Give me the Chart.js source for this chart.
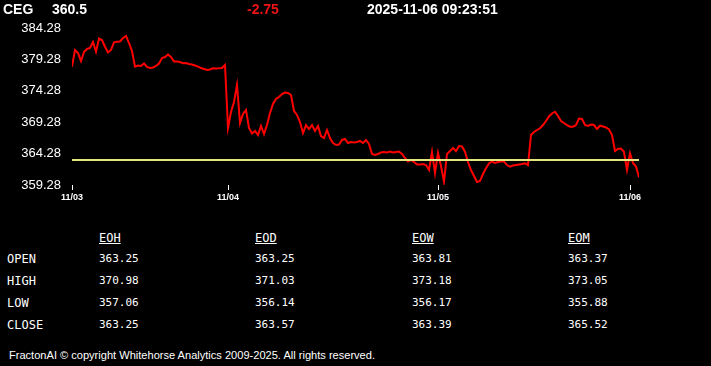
<!DOCTYPE html>
<html>
<head>
<meta charset="utf-8">
<script src="https://cdn.jsdelivr.net/npm/chart.js@4.4.1/dist/chart.umd.min.js"></script>
<style>
  html, body { margin:0; padding:0; background:#000; width:711px; height:366px; overflow:hidden; }
  #wrap { position:relative; width:711px; height:366px; }
  #c { position:absolute; left:0; top:0; }
  .hdr { position:absolute; top:2px; font:bold 14px "Liberation Sans", Arial, sans-serif; line-height:14px; color:#fff; white-space:nowrap; }
  .mono { position:absolute; font-family:"DejaVu Sans Mono", monospace; color:#fff; white-space:nowrap; }
  #foot { position:absolute; left:9px; top:349px; font:11.5px "Liberation Sans", Arial, sans-serif; line-height:12px; color:#fff; white-space:nowrap; transform-origin:0 0; }
</style>
</head>
<body>
<div id="wrap">
  <canvas id="c" width="711" height="210"></canvas>
</div>
<script>
// ---- header ----
const symbol = 'CEG';
const lastPrice = '360.5';
const change = '-2.75';
const timestamp = '2025-11-06 09:23:51';

// ---- price series (one point per interval) ----
const prices = [
 378.12,380.78,380.30,379.03,380.46,380.94,381.10,382.05,380.51,382.61,
 382.37,381.30,380.38,380.78,382.00,382.10,382.13,382.69,383.01,381.89,
 380.62,378.12,378.31,378.23,378.63,378.07,377.91,377.99,378.23,378.63,
 379.50,379.66,380.06,379.66,378.95,378.95,378.87,378.66,378.71,378.55,
 378.47,378.31,378.12,377.91,377.75,377.59,377.67,377.86,377.83,377.86,
 377.91,378.39,368.36,370.90,372.50,375.20,369.15,370.59,371.22,368.36,
 367.48,367.88,367.24,368.68,367.40,368.83,370.75,372.18,372.97,373.29,
 373.77,374.01,373.93,373.61,371.06,370.43,369.31,367.56,368.83,368.20,
 368.83,367.88,368.68,367.08,366.76,368.04,366.76,365.97,365.65,365.73,
 366.45,366.60,365.97,366.13,366.05,366.13,366.29,365.97,366.45,365.81,
 364.22,364.06,364.22,364.46,364.54,364.46,364.61,364.46,364.54,364.61,
 364.22,363.58,363.02,363.26,362.94,362.54,362.54,362.62,362.46,361.67,
 364.54,361.19,364.38,362.31,359.81,364.22,364.69,365.17,364.69,365.49,
 365.41,364.58,362.94,361.67,360.71,359.76,359.92,361.03,361.94,362.70,
 363.02,362.78,362.94,363.02,363.02,362.46,362.19,362.38,362.46,362.54,
 362.62,362.73,362.46,367.24,367.72,368.04,368.31,368.83,369.47,370.19,
 370.67,370.95,370.27,369.47,369.15,368.83,368.56,368.56,368.83,369.87,
 369.79,368.83,368.68,368.91,368.83,368.20,368.72,368.59,368.44,368.12,
 367.24,364.69,365.01,365.09,364.54,361.67,364.33,362.78,362.23,360.50
];
const refLevel = 363.25;

// ---- axes ----
const dayTickIndex = [0, 52, 122, 186];
const dayLabels = ['11/03', '11/04', '11/05', '11/06'];
const yMin = 359.28, yMax = 384.28, yStep = 5;

// ---- stats table ----
const statCols = ['EOH', 'EOD', 'EOW', 'EOM'];
const statRows = ['OPEN', 'HIGH', 'LOW', 'CLOSE'];
const eoh = ['363.25', '370.98', '357.06', '363.25'];
const eod = ['363.25', '371.03', '356.14', '363.57'];
const eow = ['363.81', '373.18', '356.17', '363.39'];
const eom = ['363.37', '373.05', '355.88', '365.52'];
const statValues = [eoh, eod, eow, eom];

const footer = 'FractonAI \u00a9 copyright Whitehorse Analytics 2009-2025. All rights reserved.';

// header
const wrap = document.getElementById('wrap');
function addDiv(cls, text, style) {
  const d = document.createElement('div');
  d.className = cls; d.textContent = text;
  Object.assign(d.style, style || {});
  wrap.appendChild(d); return d;
}
addDiv('hdr', symbol, {left:'3px'});
addDiv('hdr', lastPrice, {left:'52px'});
addDiv('hdr', change, {left:'247px', color:'#f01414'});
addDiv('hdr', timestamp, {left:'367px'});

// table
const colX = [99, 255, 412, 568];
const rowY = [259, 281, 303, 325];
statCols.forEach((c, i) => {
  addDiv('mono', c, {left: colX[i] + 'px', top: (238 - 7) + 'px', fontSize:'12px', lineHeight:'14px', textDecoration:'underline'});
});
statRows.forEach((r, j) => {
  addDiv('mono', r, {left:'7px', top: (rowY[j] - 7) + 'px', fontSize:'12px', lineHeight:'14px'});
  statValues.forEach((col, i) => {
    addDiv('mono', col[j], {left: colX[i] + 'px', top: (rowY[j] - 7.5) + 'px', fontSize:'11px', lineHeight:'14px'});
  });
});
const f = document.createElement('div');
f.id = 'foot'; f.textContent = footer; wrap.appendChild(f);
const fw = f.getBoundingClientRect().width;
f.style.transform = 'scaleX(' + (366 / fw) + ')';

// chart
const linePts = prices.map((v, i) => ({x: i, y: v}));
const refPts = prices.map((v, i) => ({x: i, y: refLevel}));

new Chart(document.getElementById('c'), {
  type: 'line',
  data: {
    datasets: [
      { data: refPts, borderColor: '#e2e47e', borderWidth: 2, pointRadius: 0, tension: 0 },
      { data: linePts, borderColor: '#ff0000', borderWidth: 2, pointRadius: 0, tension: 0 }
    ]
  },
  options: {
    responsive: false,
    animation: false,
    devicePixelRatio: 1,
    layout: { padding: { top: 28, right: 72, left: 0, bottom: 0 } },
    plugins: { legend: { display: false }, tooltip: { enabled: false } },
    scales: {
      x: {
        type: 'linear',
        min: 0, max: prices.length - 1,
        afterBuildTicks: (s) => { s.ticks = dayTickIndex.map(v => ({value: v})); },
        afterFit: (s) => { s.height = 25; },
        ticks: {
          autoSkip: false, maxRotation: 0, padding: 2,
          color: '#fff',
          font: { family: '"Liberation Sans", Arial, sans-serif', size: 9, weight: 'bold' },
          callback: (v) => { const k = dayTickIndex.indexOf(v); return k >= 0 ? dayLabels[k] : ''; }
        },
        grid: { display: true, drawOnChartArea: false, drawTicks: true, tickLength: 5, color: '#fff', lineWidth: 1 },
        border: { display: false }
      },
      y: {
        min: yMin, max: yMax,
        afterBuildTicks: (s) => {
          const t = [];
          for (let v = yMin; v <= yMax + 1e-6; v += yStep) t.push({value: +v.toFixed(2)});
          s.ticks = t;
        },
        afterFit: (s) => { s.width = 72; },
        ticks: {
          padding: 11, color: '#fff',
          font: { family: '"Liberation Sans", Arial, sans-serif', size: 13 },
          callback: (v) => v.toFixed(2)
        },
        grid: { display: false, drawTicks: false },
        border: { display: false }
      }
    }
  }
});
</script>
</body>
</html>
